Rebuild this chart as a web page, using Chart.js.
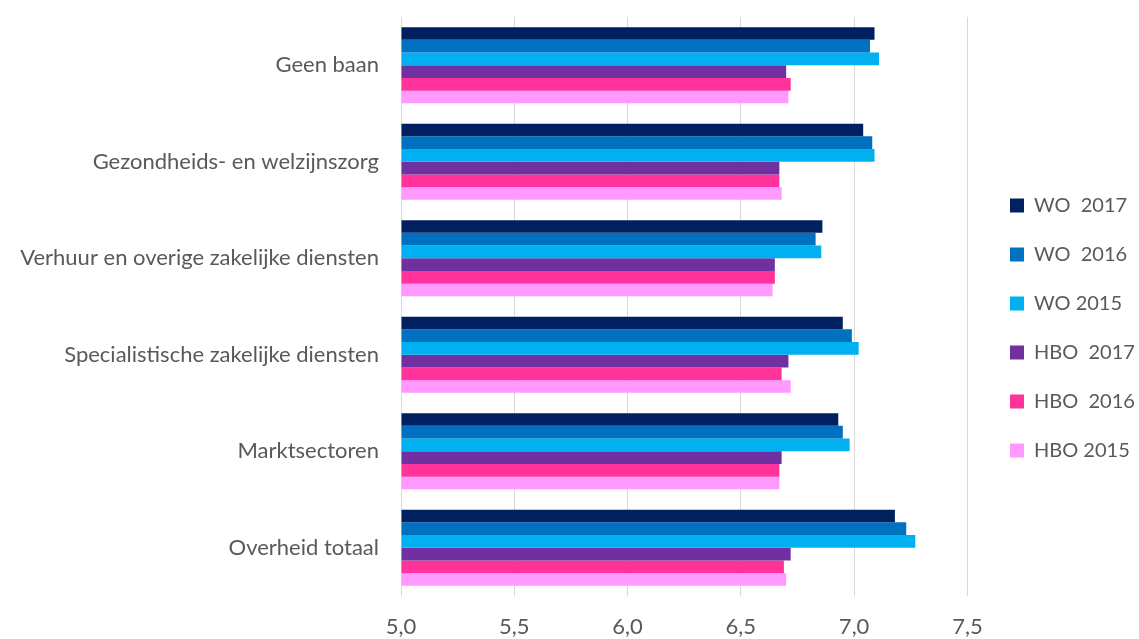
<!DOCTYPE html>
<html>
<head>
<meta charset="utf-8">
<script src="https://cdn.jsdelivr.net/npm/chart.js@4"></script>
<style>
  html, body { margin: 0; padding: 0; background: #ffffff; }
  #wrap { width: 1139px; height: 639px; position: relative; }
</style>
</head>
<body>
<div id="wrap"><canvas id="c"></canvas></div>
<script>
const categories = [
  'Geen baan',
  'Gezondheids- en welzijnszorg',
  'Verhuur en overige zakelijke diensten',
  'Specialistische zakelijke diensten',
  'Marktsectoren',
  'Overheid totaal'
];
const seriesNames = ['WO  2017', 'WO  2016', 'WO 2015', 'HBO  2017', 'HBO  2016', 'HBO 2015'];
const wo2017  = [7.09, 7.04, 6.86, 6.95, 6.93, 7.18];
const wo2016  = [7.07, 7.08, 6.83, 6.99, 6.95, 7.23];
const wo2015  = [7.11, 7.09, 6.855, 7.02, 6.98, 7.27];
const hbo2017 = [6.70, 6.67, 6.65, 6.71, 6.68, 6.72];
const hbo2016 = [6.72, 6.67, 6.65, 6.68, 6.67, 6.69];
const hbo2015 = [6.71, 6.68, 6.64, 6.72, 6.67, 6.70];
const xTickValues = [5.0, 5.5, 6.0, 6.5, 7.0, 7.5];

const colors = ['#002060', '#0070C0', '#00B0F0', '#7030A0', '#FF3399', '#FF99FF'];
const seriesValues = [wo2017, wo2016, wo2015, hbo2017, hbo2016, hbo2015];

const FONT = 'Lato';
const TEXT = '#595959';

const datasets = seriesValues.map((vals, i) => ({
  label: seriesNames[i],
  data: vals,
  backgroundColor: colors[i],
  borderWidth: 0,
  base: 5,
  barPercentage: 1.0,
  categoryPercentage: 0.79
}));

new Chart(document.getElementById('c'), {
  type: 'bar',
  data: { labels: categories, datasets },
  options: {
    indexAxis: 'y',
    responsive: true,
    maintainAspectRatio: false,
    animation: false,
    devicePixelRatio: 1,
    events: [],
    layout: { padding: { top: 17, right: 0, bottom: 0, left: 0 } },
    plugins: {
      tooltip: { enabled: false },
      legend: {
        position: 'right',
        align: 'center',
        maxWidth: 158,
        labels: {
          boxWidth: 14,
          boxHeight: 14,
          padding: 29,
          color: TEXT,
          font: { family: FONT, size: 20 }
        }
      }
    },
    scales: {
      x: {
        type: 'linear',
        min: 5,
        max: 7.56,
        grid: { color: '#d9d9d9', lineWidth: 1, drawTicks: false },
        border: { display: false },
        ticks: {
          stepSize: 0.5,
          includeBounds: false,
          padding: 18,
          color: TEXT,
          font: { family: FONT, size: 22 },
          callback: (v) => xTickValues.includes(v) ? v.toFixed(1).replace('.', ',') : ''
        },
        afterFit: (scale) => {
          scale.height = 43;
          scale.paddingLeft = 0;
          scale.paddingRight = 0;
        }
      },
      y: {
        grid: { display: false, drawTicks: false },
        border: { display: false },
        ticks: {
          padding: 22,
          color: TEXT,
          font: { family: FONT, size: 22 }
        },
        afterFit: (scale) => {
          scale.width = 401;
          scale.paddingTop = 0;
          scale.paddingBottom = 0;
        }
      }
    }
  }
});
</script>
</body>
</html>
